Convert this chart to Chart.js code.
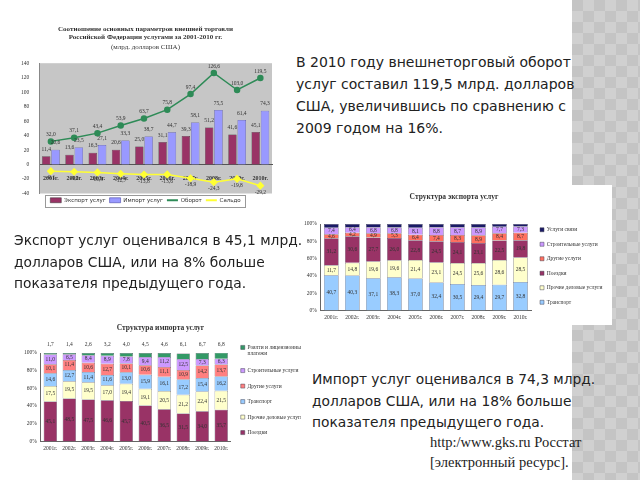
<!DOCTYPE html>
<html>
<head>
<meta charset="utf-8">
<script src="https://cdn.jsdelivr.net/npm/chart.js@4/dist/chart.umd.min.js"></script>
<style>
  body { margin: 0; width: 640px; height: 480px; position: relative; overflow: hidden; background: #fff; }
  .strip {
    position: absolute; left: 572px; top: 0; width: 68px; height: 480px;
    background-color: #c4c4c4;
    background-image:
      linear-gradient(45deg, #d0d0d0 25%, transparent 25%, transparent 75%, #d0d0d0 75%),
      linear-gradient(45deg, #d0d0d0 25%, transparent 25%, transparent 75%, #d0d0d0 75%);
    background-size: 22px 22px;
    background-position: 0 0, 11px 11px;
  }
  .pic { position: absolute; background: #fff; }
  .txt { position: absolute; white-space: pre; font-family: "DejaVu Sans", sans-serif; font-size: 13.8px; line-height: 21.5px; color: #222; }
  .src { position: absolute; white-space: pre; font-family: "Liberation Serif", serif; font-size: 14.5px; line-height: 20px; color: #222; }
</style>
</head>
<body>
<div class="strip"></div>

<div class="pic" style="left:15px;top:10px"><canvas id="trade" width="280" height="205"></canvas></div>
<div class="pic" style="left:290px;top:185px"><canvas id="exportStruct" width="322" height="140"></canvas></div>
<div class="pic" style="left:20px;top:318px"><canvas id="importStruct" width="285" height="142"></canvas></div>

<div class="txt" style="left:296px;top:51px;font-size:14px;line-height:22px">В 2010 году внешнеторговый оборот
услуг составил 119,5 млрд. долларов
США, увеличившись по сравнению с
2009 годом на 16%.</div>

<div class="txt" style="left:14px;top:230px">Экспорт услуг оценивался в 45,1 млрд.
долларов США, или на 8% больше
показателя предыдущего года.</div>

<div class="txt" style="left:312px;top:369px">Импорт услуг оценивался в 74,3 млрд.
долларов США, или на 18% больше
показателя предыдущего года.</div>

<div class="src" style="left:430px;top:432px">http:/www.gks.ru Росстат
[электронный ресурс].</div>

<script>
/* ------------------------- */
/* DATA                      */
/* ------------------------- */
const years = ["2001г.", "2002г.", "2003г.", "2004г.", "2005г.", "2006г.", "2007г.", "2008г.", "2009г.", "2010г."];

// trade in services, bln USD
const exportVals = [11.4, 13.6, 16.3, 20.6, 25.0, 31.1, 39.3, 51.2, 41.6, 45.1];
const importVals = [20.6, 23.5, 27.1, 33.3, 38.7, 44.7, 58.1, 75.5, 61.4, 74.3];
const turnoverVals = [32.0, 37.1, 43.4, 53.9, 63.7, 75.8, 97.4, 126.6, 103.0, 119.5];
const saldoVals = [-9.1, -9.9, -10.9, -12.7, -13.8, -13.6, -18.9, -24.3, -19.8, -29.2];

// export structure, %
const expTransport = [40.7, 40.3, 37.1, 38.3, 37.0, 32.4, 30.5, 29.4, 29.7, 32.8];
const expBusiness = [11.7, 14.8, 19.6, 19.6, 21.4, 23.1, 24.5, 25.6, 28.6, 28.5];
const expTravel = [31.2, 30.6, 27.7, 26.0, 22.8, 24.5, 24.1, 23.1, 22.5, 19.8];
const expOther = [4.6, 4.2, 4.9, 5.3, 6.4, 7.4, 8.3, 8.9, 8.4, 8.7];
const expBuild = [7.4, 6.4, 6.8, 6.8, 8.1, 8.8, 8.7, 8.9, 7.7, 7.3];
const expComm = [4.4, 3.7, 3.9, 4.0, 4.3, 3.8, 3.9, 4.1, 3.1, 2.9];

// import structure, %
const impTravel = [45.1, 48.5, 47.5, 46.6, 45.7, 40.5, 36.5, 31.5, 34.0, 35.7];
const impBusiness = [17.5, 19.5, 19.5, 17.0, 19.4, 19.1, 20.5, 21.2, 22.4, 21.5];
const impTransport = [14.6, 12.7, 11.4, 11.6, 13.0, 15.9, 16.1, 17.2, 15.4, 16.2];
const impOther = [10.1, 11.4, 10.6, 12.7, 10.1, 10.6, 11.1, 10.9, 14.2, 13.7];
const impBuild = [11.0, 6.5, 8.4, 8.9, 7.8, 9.4, 11.2, 12.5, 7.3, 6.3];
const impRoyalty = [1.7, 1.4, 2.6, 3.2, 4.0, 4.5, 4.6, 6.1, 6.7, 6.8];

const serif = "Liberation Serif";
const fmt = v => v.toFixed(1).replace(".", ",");

/* ------------------------- */
/* PLUGINS                   */
/* ------------------------- */
// value labels on bars / points
const valueLabels = {
  id: "valueLabels",
  afterDatasetsDraw(chart, args, opts) {
    const ctx = chart.ctx;
    ctx.save();
    ctx.font = (opts.size || 6) + "px " + serif;
    ctx.fillStyle = "#333";
    ctx.textAlign = "center";
    chart.data.datasets.forEach((ds, i) => {
      if (!ds.labelPos) return;
      chart.getDatasetMeta(i).data.forEach((el, j) => {
        let y = el.y;
        if (ds.labelPos === "center") { y = (el.y + el.base) / 2; ctx.textBaseline = "middle"; }
        else if (ds.labelPos === "above") { y = el.y - 4; ctx.textBaseline = "bottom"; }
        else if (ds.labelPos === "below") { y = el.y + 4; ctx.textBaseline = "top"; }
        else if (ds.labelPos === "outside") { y = chart.chartArea.top - 6; ctx.textBaseline = "bottom"; }
        ctx.fillText(fmt(ds.data[j]), el.x, y);
      });
    });
    ctx.restore();
  }
};

// gray plot area + framed legend
const plotFrame = {
  id: "plotFrame",
  beforeDraw(chart, args, opts) {
    if (!opts.color) return;
    const { left, top, width, height } = chart.chartArea;
    chart.ctx.fillStyle = opts.color;
    chart.ctx.fillRect(left, top, width, height);
  },
  afterDraw(chart, args, opts) {
    if (!opts.legendBox) return;
    const boxes = chart.legend.legendHitBoxes;
    if (!boxes || !boxes.length) return;
    const l = boxes[0].left - 5;
    const last = boxes[boxes.length - 1];
    const r = last.left + last.width + 5;
    const ctx = chart.ctx;
    ctx.save();
    ctx.strokeStyle = "#999";
    ctx.lineWidth = 1;
    ctx.strokeRect(Math.round(l) + 0.5, Math.round(boxes[0].top - 3) + 0.5, Math.round(r - l), Math.round(boxes[0].height + 6));
    ctx.restore();
  }
};

Chart.register(valueLabels, plotFrame);
Chart.defaults.color = "#333";
Chart.defaults.animation = false;

/* ------------------------- */
/* 1. TRADE IN SERVICES      */
/* ------------------------- */
const legendOrder = [2, 3, 0, 1];
new Chart(document.getElementById("trade"), {
  data: {
    labels: years,
    datasets: [
      { type: "line", label: "Оборот", data: turnoverVals, borderColor: "#2e8b57", backgroundColor: "#2e8b57",
        borderWidth: 1.5, pointRadius: 2.5, pointStyle: "circle", labelPos: "above", order: 0 },
      { type: "line", label: "Сальдо", data: saldoVals, borderColor: "#ffff33", backgroundColor: "#ffff33",
        borderWidth: 1.5, pointRadius: 3, pointStyle: "rectRot", labelPos: "below", order: 0 },
      { type: "bar", label: "Экспорт услуг", data: exportVals, backgroundColor: "#993366", borderColor: "#333",
        borderWidth: 0.5, labelPos: "above", order: 1 },
      { type: "bar", label: "Импорт услуг", data: importVals, backgroundColor: "#9999ff", borderColor: "#333399",
        borderWidth: 0.5, labelPos: "above", order: 1 }
    ]
  },
  options: {
    responsive: false,
    layout: { padding: { left: 4, right: 23, top: 15, bottom: 2 } },
    datasets: { bar: { categoryPercentage: 0.8, barPercentage: 0.9 } },
    scales: {
      x: {
        position: { y: 0 },
        grid: { display: false },
        border: { color: "#555" },
        ticks: { font: { family: serif, size: 6, weight: "bold" }, padding: 2, maxRotation: 0 }
      },
      y: {
        min: -40, max: 140,
        grid: { display: false },
        border: { color: "#888" },
        ticks: { stepSize: 10, font: { family: serif, size: 5.5 }, padding: 2 }
      }
    },
    plugins: {
      plotFrame: { color: "#c6c6c6", legendBox: true },
      valueLabels: { size: 5.5 },
      title: {
        display: true,
        text: ["Соотношение основных параметров внешней торговли", "Российской Федерации услугами за 2001-2010 гг."],
        font: { family: serif, size: 7, weight: "bold" }, lineHeight: 1.25, padding: { top: 0, bottom: 1 }
      },
      subtitle: {
        display: true, text: "(млрд. долларов США)",
        font: { family: serif, size: 7 }, padding: { top: 0, bottom: 12 }
      },
      legend: {
        position: "bottom",
        labels: {
          font: { family: "DejaVu Sans", size: 5.5 }, usePointStyle: true, pointStyleWidth: 11,
          boxHeight: 5, padding: 4,
          sort: (a, b) => legendOrder.indexOf(a.datasetIndex) - legendOrder.indexOf(b.datasetIndex),
          generateLabels: chart => Chart.defaults.plugins.legend.labels.generateLabels(chart).map(it => {
            const ds = chart.data.datasets[it.datasetIndex];
            it.pointStyle = ds.type === "bar" ? "rect" : "line";
            if (ds.type !== "bar") { it.strokeStyle = ds.borderColor; it.lineWidth = 2; }
            return it;
          })
        }
      },
      tooltip: { enabled: false }
    }
  }
});

/* ------------------------- */
/* 2. EXPORT STRUCTURE       */
/* ------------------------- */
const structOptions = (titleText, legendPad) => ({
  responsive: false,
  datasets: { bar: { categoryPercentage: 1, barPercentage: 0.7 } },
  scales: {
    x: {
      stacked: true, grid: { display: false, drawTicks: false }, border: { color: "#666" },
      ticks: { font: { family: serif, size: 5.5 }, padding: 4, maxRotation: 0 }
    },
    y: {
      stacked: true, min: 0, max: 100, grid: { display: false, drawTicks: false }, border: { color: "#666" },
      ticks: { stepSize: 20, callback: v => v + "%", font: { family: serif, size: 5.5 }, padding: 4 }
    }
  },
  plugins: {
    valueLabels: { size: 5.5 },
    title: {
      display: true, text: titleText,
      font: { family: serif, size: 7.5, weight: "bold" }, padding: { top: 0, bottom: 22 }
    },
    legend: {
      position: "right", reverse: true,
      labels: { font: { family: serif, size: 5.5 }, boxWidth: 4, boxHeight: 4, padding: legendPad }
    },
    tooltip: { enabled: false }
  }
});

const expOpts = structOptions("Структура экспорта услуг", 9);
expOpts.layout = { padding: { left: 10, right: 4, top: 8, bottom: 0 } };
expOpts.plugins.legend.title = { display: true, text: " ", padding: { top: 8, bottom: 0 }, font: { size: 5 } };
new Chart(document.getElementById("exportStruct"), {
  type: "bar",
  data: {
    labels: years,
    datasets: [
      { label: "Транспорт", data: expTransport, backgroundColor: "#99ccff", borderColor: "#445", borderWidth: 0.5, labelPos: "center" },
      { label: "Прочие деловые услуги", data: expBusiness, backgroundColor: "#ffffcc", borderColor: "#445", borderWidth: 0.5, labelPos: "center" },
      { label: "Поездки", data: expTravel, backgroundColor: "#993366", borderColor: "#445", borderWidth: 0.5, labelPos: "center" },
      { label: "Другие услуги", data: expOther, backgroundColor: "#ff7060", borderColor: "#445", borderWidth: 0.5, labelPos: "center" },
      { label: "Строительные услуги", data: expBuild, backgroundColor: "#cc99ff", borderColor: "#445", borderWidth: 0.5, labelPos: "center" },
      { label: "Услуги связи", data: expComm, backgroundColor: "#1a1a66", borderColor: "#445", borderWidth: 0.5 }
    ]
  },
  options: expOpts
});

/* ------------------------- */
/* 3. IMPORT STRUCTURE       */
/* ------------------------- */
const impOpts = structOptions("Структура импорта услуг", 10);
impOpts.layout = { padding: { left: 0, right: 4, top: 6, bottom: 4 } };
impOpts.plugins.title.padding = { top: 0, bottom: 20 };
new Chart(document.getElementById("importStruct"), {
  type: "bar",
  data: {
    labels: years,
    datasets: [
      { label: "Поездки", data: impTravel, backgroundColor: "#993366", borderColor: "#445", borderWidth: 0.5, labelPos: "center" },
      { label: "Прочие деловые услуги", data: impBusiness, backgroundColor: "#ffffcc", borderColor: "#445", borderWidth: 0.5, labelPos: "center" },
      { label: "Транспорт", data: impTransport, backgroundColor: "#99ccff", borderColor: "#445", borderWidth: 0.5, labelPos: "center" },
      { label: "Другие услуги", data: impOther, backgroundColor: "#ff8080", borderColor: "#445", borderWidth: 0.5, labelPos: "center" },
      { label: "Строительные услуги", data: impBuild, backgroundColor: "#cc99ff", borderColor: "#445", borderWidth: 0.5, labelPos: "center" },
      { label: ["Роялти и лицензионные", "платежи"], data: impRoyalty, backgroundColor: "#339966", borderColor: "#445", borderWidth: 0.5, labelPos: "outside" }
    ]
  },
  options: impOpts
});
</script>
</body>
</html>
